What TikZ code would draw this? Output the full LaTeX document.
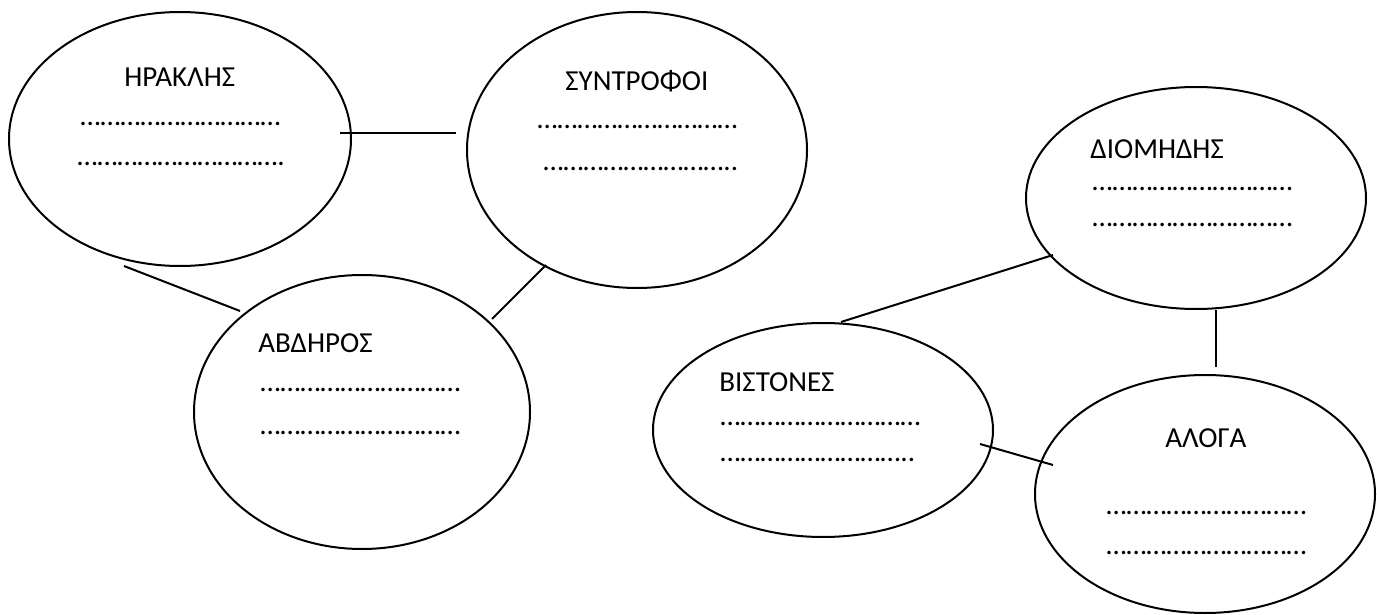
\documentclass[tikz,border=0pt]{standalone}
\usepackage{fontspec}
\setmainfont{Carlito}
\usetikzlibrary{shapes.geometric}

\begin{document}
\begin{tikzpicture}[x=0.5pt, y=-0.5pt,
  bubble/.style={draw, ellipse, line width=1pt, inner sep=0pt},
  txt/.style={anchor=base west, inner sep=0pt, font=\fontsize{14.5pt}{17pt}\selectfont},
  link/.style={line width=1pt}]

  \useasboundingbox (0,0) rectangle (1377,615);

  % the six bubbles
  \node[bubble, minimum width=171pt, minimum height=127pt] (herakles) at (180,139) {};
  \node[bubble, minimum width=170pt, minimum height=138pt] (syntrofoi) at (637,150) {};
  \node[bubble, minimum width=168pt, minimum height=137pt] (avdiros) at (362,412) {};
  \node[bubble, minimum width=170pt, minimum height=111pt] (diomidis) at (1196,198) {};
  \node[bubble, minimum width=170pt, minimum height=107pt] (vistones) at (823,430) {};
  \node[bubble, minimum width=170pt, minimum height=119pt] (aloga) at (1205,494) {};

  % texts
  \node[txt] (herakles-t) at (124,87) {ΗΡΑΚΛΗΣ};
  \node[txt] (herakles-1) at (80,126) {…………………………};
  \node[txt] (herakles-2) at (77,166) {………………………….};

  \node[txt] (syntrofoi-t) at (565,91) {ΣΥΝΤΡΟΦΟΙ};
  \node[txt] (syntrofoi-1) at (537,129) {…………………………};
  \node[txt] (syntrofoi-2) at (543,170) {………………………..};

  \node[txt] (avdiros-t) at (258,352) {ΑΒΔΗΡΟΣ};
  \node[txt] (avdiros-1) at (260,391) {…………………………};
  \node[txt] (avdiros-2) at (260,434) {…………………………};

  \node[txt] (diomidis-t) at (1090,159) {ΔΙΟΜΗΔΗΣ};
  \node[txt] (diomidis-1) at (1092,191) {…………………………};
  \node[txt] (diomidis-2) at (1092,227) {…………………………};

  \node[txt] (vistones-t) at (719,391) {ΒΙΣΤΟΝΕΣ};
  \node[txt] (vistones-1) at (720,425) {…………………………};
  \node[txt] (vistones-2) at (720,461) {………………………..};

  \node[txt] (aloga-t) at (1165,447) {ΑΛΟΓΑ};
  \node[txt] (aloga-1) at (1106,514) {…………………………};
  \node[txt] (aloga-2) at (1106,554) {…………………………};

  % line ends
  \coordinate (he-sy) at (340,133);
  \coordinate (sy-he) at (456,133);
  \coordinate (he-av) at (124,266);
  \coordinate (av-he) at (240,311);
  \coordinate (sy-av) at (546,265);
  \coordinate (av-sy) at (492,319);
  \coordinate (di-vi) at (1053,255);
  \coordinate (vi-di) at (841,322);
  \coordinate (di-al) at (1216,310);
  \coordinate (al-di) at (1216,367);
  \coordinate (vi-al) at (980,444);
  \coordinate (al-vi) at (1053,465);

  \draw[link] (he-sy) -- (sy-he);
  \draw[link] (he-av) -- (av-he);
  \draw[link] (sy-av) -- (av-sy);
  \draw[link] (di-vi) -- (vi-di);
  \draw[link] (di-al) -- (al-di);
  \draw[link] (vi-al) -- (al-vi);

\end{tikzpicture}
\end{document}
